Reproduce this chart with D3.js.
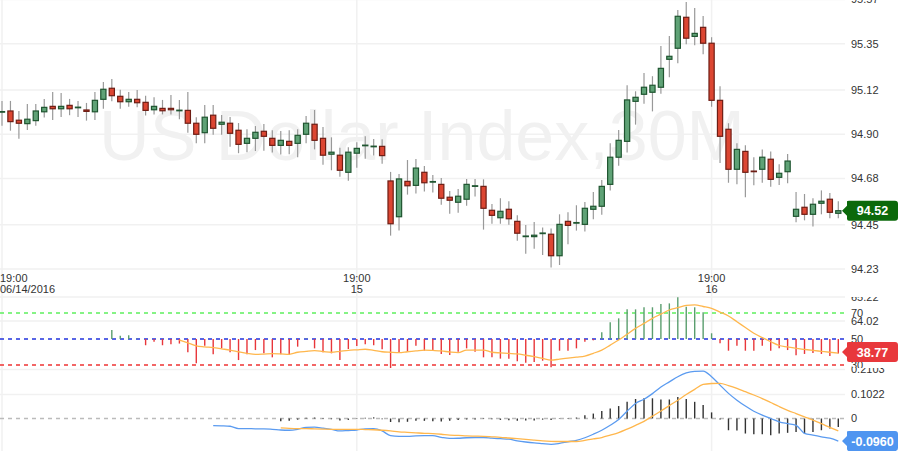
<!DOCTYPE html>
<html><head><meta charset="utf-8">
<script src="https://cdn.jsdelivr.net/npm/d3@7"></script>
<style>body{margin:0;background:#fff;} svg{display:block;font-family:"Liberation Sans",Arial,sans-serif;}</style>
</head><body><svg id="c" width="900" height="451"></svg>
<script>
// ---------- DATA ----------
const opens = [95.012,95.016,94.970,94.953,94.968,95.012,95.039,95.027,95.044,95.034,
95.021,95.012,95.074,95.129,95.089,95.062,95.074,95.059,95.022,95.029,
95.029,95.019,95.019,94.955,94.908,94.995,94.950,94.955,94.920,94.855,
94.880,94.915,94.880,94.845,94.865,94.855,94.900,94.950,94.880,94.801,
94.796,94.711,94.806,94.845,94.840,94.840,94.668,94.490,94.666,94.646,
94.711,94.664,94.651,94.587,94.562,94.577,94.643,94.641,94.522,94.485,
94.527,94.467,94.393,94.391,94.408,94.403,94.296,94.467,94.460,94.452,
94.527,94.542,94.651,94.786,94.865,95.064,95.099,95.109,95.134,95.273,
95.328,95.482,95.387,95.432,95.353,95.069,94.925,94.726,94.815,94.717,
94.726,94.776,94.686,94.714,94.492,94.537,94.502,94.557,94.577,94.507];
const highs = [95.066,95.066,95.016,95.051,95.051,95.076,95.110,95.105,95.076,95.066,
95.056,95.110,95.160,95.175,95.122,95.110,95.120,95.092,95.084,95.071,
95.096,95.071,95.110,94.985,95.046,95.046,94.996,94.986,94.956,94.925,
94.941,94.951,94.920,94.916,94.920,94.925,94.991,95.021,94.936,94.885,
94.833,94.835,94.860,94.890,94.877,94.875,94.713,94.703,94.772,94.777,
94.742,94.698,94.683,94.618,94.628,94.678,94.678,94.676,94.553,94.582,
94.567,94.497,94.449,94.464,94.437,94.432,94.502,94.512,94.547,94.563,
94.613,94.673,94.855,94.921,95.144,95.114,95.205,95.189,95.339,95.389,
95.518,95.558,95.528,95.488,95.383,95.139,94.955,94.855,94.845,94.786,
94.825,94.815,94.751,94.802,94.613,94.603,94.582,94.621,94.608,94.567];
const lows = [94.943,94.918,94.878,94.921,94.943,94.983,94.971,94.986,94.995,94.986,
94.968,94.971,95.027,95.064,95.027,95.037,95.034,94.993,94.999,94.999,
94.999,94.975,94.908,94.855,94.855,94.898,94.898,94.838,94.806,94.811,
94.817,94.818,94.809,94.799,94.801,94.786,94.855,94.825,94.749,94.721,
94.689,94.669,94.734,94.779,94.794,94.754,94.396,94.421,94.600,94.605,
94.615,94.610,94.550,94.505,94.510,94.545,94.590,94.426,94.455,94.455,
94.450,94.371,94.306,94.331,94.300,94.237,94.250,94.353,94.421,94.416,
94.477,94.500,94.620,94.744,94.809,94.948,95.052,95.014,95.102,95.184,
95.253,95.348,95.343,95.298,95.037,94.757,94.659,94.651,94.587,94.646,
94.659,94.639,94.648,94.656,94.462,94.472,94.442,94.502,94.482,94.482];
const closes = [95.013,94.963,94.955,94.975,95.016,95.034,95.027,95.039,95.027,95.035,
95.014,95.069,95.124,95.092,95.062,95.074,95.057,95.019,95.039,95.017,
95.022,95.020,94.955,94.900,94.985,94.930,94.960,94.905,94.850,94.880,
94.910,94.890,94.845,94.870,94.845,94.895,94.955,94.870,94.796,94.811,
94.721,94.811,94.830,94.846,94.841,94.794,94.455,94.678,94.644,94.732,
94.659,94.665,94.582,94.572,94.592,94.651,94.644,94.532,94.497,94.517,
94.480,94.408,94.394,94.398,94.409,94.296,94.452,94.447,94.461,94.532,
94.542,94.641,94.786,94.870,95.071,95.084,95.134,95.144,95.228,95.288,
95.487,95.378,95.402,95.353,95.069,94.890,94.726,94.825,94.711,94.714,
94.786,94.676,94.706,94.767,94.527,94.502,94.552,94.567,94.512,94.520];

// oscillator histogram (bars around 50), first value at bar 13
const rsiStart = 13;
const rsiValues = [56.9,52.5,52.8,50.3,45.2,47.9,45.2,45.9,46.5,39.8,31.3,44.9,38.2,42.8,39.8,33.8,38.2,41.5,39.0,35.9,
38.2,37.7,44.1,50.3,42.8,39.8,39.0,33.8,42.3,44.6,45.9,45.2,42.1,26.2,39.8,40.2,44.9,41.0,41.0,38.5,
37.7,40.2,42.8,40.2,35.9,35.9,34.9,34.9,32.8,31.8,32.3,33.3,28.2,41.0,41.0,42.8,47.9,49.0,55.1,62.8,
65.9,72.8,72.8,74.4,74.4,76.9,77.4,82.1,74.9,74.4,70.5,54.4,46.7,41.0,44.9,41.0,41.0,44.9,41.0,42.8,
41.5,37.5,38.5,39.2,38.5,37.0,38.77];
// smoothed line, first value at bar 21
const rsiMaStart = 21;
const rsiMaValues = [49.2,47.0,44.8,44.0,43.3,42.4,41.5,40.2,39.0,38.2,38.4,38.7,38.5,38.2,39.8,40.5,41.0,40.4,39.8,40.5,
41.3,41.7,42.1,41.2,40.2,39.8,39.5,40.2,40.8,41.5,41.2,40.8,40.0,39.5,41.5,41.5,41.5,39.8,39.3,38.9,
38.5,37.5,36.4,35.1,33.8,34.5,35.3,36.1,36.9,39.0,41.5,45.3,49.2,53.7,58.2,62.0,65.9,69.1,72.3,74.1,
75.9,76.2,75.0,73.6,70.7,67.7,63.3,58.8,54.4,51.0,47.9,45.0,43.9,42.8,42.0,41.2,40.5,39.8,39.2];
// MACD line, first value at bar 25
const macdStart = 25;
const macdValues = [-0.030,-0.031,-0.033,-0.043,-0.043,-0.044,-0.044,-0.046,-0.049,-0.050,
-0.046,-0.038,-0.037,-0.041,-0.046,-0.053,-0.051,-0.049,-0.044,-0.043,
-0.053,-0.073,-0.076,-0.076,-0.074,-0.073,-0.073,-0.080,-0.085,-0.084,
-0.082,-0.081,-0.081,-0.084,-0.086,-0.088,-0.095,-0.100,-0.104,-0.107,
-0.110,-0.106,-0.099,-0.093,-0.082,-0.067,-0.050,-0.029,-0.004,0.031,
0.064,0.082,0.106,0.134,0.156,0.178,0.194,0.201,0.202,0.178,
0.142,0.107,0.078,0.053,0.031,0.014,0.000,-0.014,-0.022,-0.029,
-0.063,-0.071,-0.078,-0.084,-0.096];
// signal line and histogram, first value at bar 33
const signalStart = 33;
const signalValues = [-0.040,-0.042,-0.043,-0.043,-0.044,-0.045,-0.046,-0.046,-0.046,-0.046,
-0.047,-0.048,-0.050,-0.053,-0.057,-0.059,-0.061,-0.063,-0.064,-0.067,
-0.071,-0.072,-0.074,-0.075,-0.076,-0.078,-0.080,-0.083,-0.086,-0.089,
-0.092,-0.095,-0.097,-0.098,-0.098,-0.098,-0.093,-0.087,-0.081,-0.071,
-0.060,-0.045,-0.029,-0.012,0.010,0.032,0.055,0.078,0.102,0.124,
0.145,0.149,0.150,0.140,0.128,0.114,0.100,0.085,0.068,0.051,
0.035,0.021,0.007,-0.007,-0.022,-0.038,-0.053];
const histValues = [-0.012,-0.010,-0.005,0.003,0.004,0.002,-0.003,-0.008,-0.006,-0.002,
0.003,0.005,-0.003,-0.015,-0.016,-0.014,-0.010,-0.010,-0.012,-0.013,
-0.010,-0.006,-0.004,-0.004,-0.002,-0.003,-0.006,-0.007,-0.010,-0.009,
-0.008,-0.005,-0.006,-0.002,0.002,0.004,0.014,0.021,0.032,0.043,
0.053,0.071,0.083,0.086,0.086,0.081,0.081,0.092,0.083,0.071,
0.057,0.026,-0.004,-0.050,-0.051,-0.064,-0.067,-0.067,-0.071,-0.064,
-0.061,-0.057,-0.064,-0.057,-0.050,-0.043,-0.036];

// axis ticks
const priceTicks = [95.57,95.35,95.12,94.90,94.68,94.45,94.23];
const timeTickIdx = [0,42,84];
const timeTickTop = ["19:00","19:00","19:00"];
const timeTickBottom = ["06/14/2016","15","16"];
const rsiLevels = [70,50,30];
const rsiExtraLabels = ["65.22","64.02","31.82"];
const rsiExtraAt = [82.0,63.8,44.5];
const macdTicks = [0.2103,0.1022,0];
const lastPrice = 94.52, lastRsi = 38.77, lastMacd = -0.0960;
const title = "US Dollar Index,30M";

// ---------- CHART ----------
const svg = d3.select('#c');
const plotR = 845;
const x = d3.scaleLinear().domain([0, 99]).range([2, 838.3]);
const yP = d3.scaleLinear().domain([94.23, 95.57]).range([269, -0.4]);
const yR = d3.scaleLinear().domain([30, 70]).range([365, 313]);
const yM = d3.scaleLinear().domain([0, 0.1022]).range([418.5, 394.5]);

const defs = svg.append('defs');
defs.append('clipPath').attr('id','cp').append('rect').attr('x',0).attr('y',0).attr('width',900).attr('height',297);
defs.append('clipPath').attr('id','cr').append('rect').attr('x',0).attr('y',297).attr('width',900).attr('height',71);
defs.append('clipPath').attr('id','cm').append('rect').attr('x',0).attr('y',368).attr('width',900).attr('height',83);

const grid = '#f1f1f1';
// vertical grid
svg.append('g').selectAll('line').data(timeTickIdx).join('line')
  .attr('x1',d=>x(d)).attr('x2',d=>x(d)).attr('y1',0).attr('y2',451)
  .attr('stroke',grid).attr('stroke-width',1.5);
// price grid
svg.append('g').selectAll('line').data(priceTicks).join('line')
  .attr('x1',0).attr('x2',plotR).attr('y1',d=>yP(d)).attr('y2',d=>yP(d))
  .attr('stroke',grid).attr('stroke-width',1.5);
// panel separators & oscillator grid
[297, yR(rsiExtraAt[1]), 369.5, yM(0.1022)].forEach(v=>{
  svg.append('line').attr('x1',0).attr('x2',plotR).attr('y1',v).attr('y2',v).attr('stroke',grid).attr('stroke-width',1.5);
});

// watermark
svg.append('text').attr('x',422).attr('y',160).attr('text-anchor','middle')
  .attr('font-size',70).attr('fill','#f1f1f1').text(title);

// candles
const idx = d3.range(opens.length);
const gC = svg.append('g').attr('clip-path','url(#cp)');
gC.selectAll('line.w').data(idx).join('line').attr('class','w')
  .attr('x1',i=>x(i)).attr('x2',i=>x(i)).attr('y1',i=>yP(highs[i])).attr('y2',i=>yP(lows[i]))
  .attr('stroke','#999').attr('stroke-width',1.2);
gC.selectAll('rect').data(idx).join('rect')
  .attr('x',i=>x(i)-2.6).attr('width',5.2)
  .attr('y',i=>Math.min(yP(opens[i]),yP(closes[i])))
  .attr('height',i=>Math.max(0.6,Math.abs(yP(opens[i])-yP(closes[i]))))
  .attr('fill',i=>closes[i]>=opens[i]?'#5fa276':'#dc4632')
  .attr('stroke',i=>closes[i]>=opens[i]?'#1f5530':'#6e1d14')
  .attr('stroke-width',1.2);

// price axis labels
svg.append('g').attr('clip-path','url(#cp)').selectAll('text').data(priceTicks).join('text')
  .attr('x',851).attr('y',d=>yP(d)).attr('dy','0.35em').attr('font-size',11).attr('fill','#333')
  .text(d=>d.toFixed(2));
// time labels
const gT = svg.append('g').attr('font-size',11).attr('fill','#333');
gT.selectAll('text.t').data(timeTickIdx).join('text').attr('class','t')
  .attr('x',(d,i)=>i===0?0:x(d)).attr('text-anchor',(d,i)=>i===0?'start':'middle')
  .attr('y',282).text((d,i)=>timeTickTop[i]);
gT.selectAll('text.b').data(timeTickIdx).join('text').attr('class','b')
  .attr('x',(d,i)=>i===0?0:x(d)).attr('text-anchor',(d,i)=>i===0?'start':'middle')
  .attr('y',292.5).text((d,i)=>timeTickBottom[i]);

// last price label
function tag(yc, txt, color){
  const g = svg.append('g');
  g.append('path').attr('d',`M842,${yc} L847,${yc-5} L847,${yc-9.5} Q847,${yc-10} 849,${yc-10} L895,${yc-10} Q898,${yc-10} 898,${yc-7} L898,${yc+7} Q898,${yc+10} 895,${yc+10} L849,${yc+10} Q847,${yc+10} 847,${yc+8} L847,${yc+5} Z`)
    .attr('fill',color);
  g.append('text').attr('x',872.5).attr('y',yc).attr('dy','0.36em').attr('text-anchor','middle')
    .attr('font-size',12.5).attr('font-weight','bold').attr('fill','#fff').text(txt);
}

// ---------- oscillator panel ----------
const gR = svg.append('g').attr('clip-path','url(#cr)');
const levelColors = ['#5ef05e','#2233dd','#ee3333'];
gR.selectAll('line.lv').data(rsiLevels).join('line').attr('class','lv')
  .attr('x1',0).attr('x2',plotR).attr('y1',d=>yR(d)).attr('y2',d=>yR(d))
  .attr('stroke',(d,i)=>levelColors[i]).attr('stroke-width',1.3).attr('stroke-dasharray','4,4');
const rsiIdx = d3.range(rsiValues.length);
gR.selectAll('line.b').data(rsiIdx).join('line').attr('class','b')
  .attr('x1',i=>x(i+rsiStart)).attr('x2',i=>x(i+rsiStart))
  .attr('y1',yR(50)).attr('y2',i=>yR(rsiValues[i]))
  .attr('stroke',i=>rsiValues[i]>=50?'#5a9e6e':'#e8363a').attr('stroke-width',1.4);
gR.append('path').datum(d3.range(rsiMaValues.length))
  .attr('d',d3.line().x(i=>x(i+rsiMaStart)).y(i=>yR(rsiMaValues[i])).curve(d3.curveMonotoneX))
  .attr('fill','none').attr('stroke','#ffb74d').attr('stroke-width',1.3);
const gRL = svg.append('g').attr('clip-path','url(#cr)').attr('font-size',11).attr('fill','#333');
gRL.selectAll('text.l').data(rsiLevels).join('text').attr('class','l')
  .attr('x',851).attr('y',d=>yR(d)).attr('dy','0.35em').text(d=>d);
gRL.selectAll('text.e').data(rsiExtraAt).join('text').attr('class','e')
  .attr('x',851).attr('y',d=>yR(d)).attr('dy','0.35em').text((d,i)=>rsiExtraLabels[i]);

// ---------- MACD panel ----------
const gM = svg.append('g').attr('clip-path','url(#cm)');
gM.append('line').attr('x1',0).attr('x2',plotR).attr('y1',yM(0)).attr('y2',yM(0))
  .attr('stroke','#bbb').attr('stroke-width',1.3).attr('stroke-dasharray','4,4');
const hIdx = d3.range(histValues.length);
gM.selectAll('line.h').data(hIdx).join('line').attr('class','h')
  .attr('x1',i=>x(i+signalStart)).attr('x2',i=>x(i+signalStart))
  .attr('y1',yM(0)).attr('y2',i=>yM(histValues[i]))
  .attr('stroke','#333').attr('stroke-width',1.4);
gM.append('path').datum(d3.range(macdValues.length))
  .attr('d',d3.line().x(i=>x(i+macdStart)).y(i=>yM(macdValues[i])).curve(d3.curveMonotoneX))
  .attr('fill','none').attr('stroke','#5b9bf0').attr('stroke-width',1.3);
gM.append('path').datum(d3.range(signalValues.length))
  .attr('d',d3.line().x(i=>x(i+signalStart)).y(i=>yM(signalValues[i])).curve(d3.curveMonotoneX))
  .attr('fill','none').attr('stroke','#ffb74d').attr('stroke-width',1.3);
svg.append('g').attr('clip-path','url(#cm)').attr('font-size',11).attr('fill','#333')
  .selectAll('text').data(macdTicks).join('text')
  .attr('x',851).attr('y',d=>yM(d)).attr('dy','0.35em').text(d=>d===0?'0':d.toFixed(4));

tag(yP(lastPrice), lastPrice.toFixed(2), '#0b690b');
tag(yR(lastRsi)-1.5, lastRsi.toFixed(2), '#e8383c');
tag(yM(lastMacd), lastMacd.toFixed(4), '#4f95f0');
</script></body></html>
